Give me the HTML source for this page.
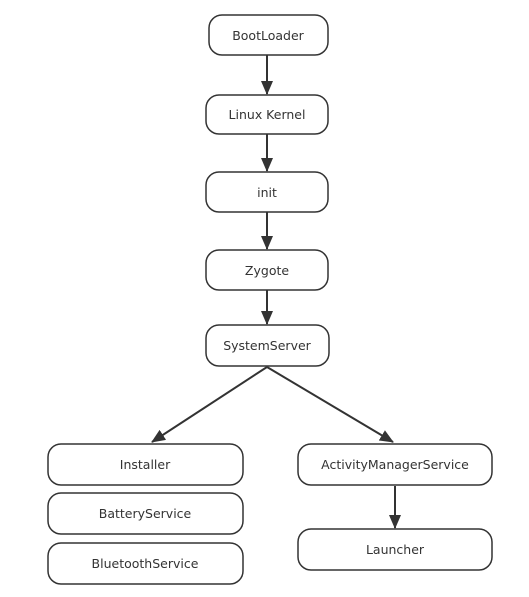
<!DOCTYPE html>
<html><head><style>body{margin:0;background:#fff}</style></head><body>
<svg width="529" height="592" xmlns="http://www.w3.org/2000/svg" font-family="'DejaVu Sans','Liberation Sans',sans-serif" font-size="12.5" fill="#333">
<defs><marker id="a" markerWidth="14" markerHeight="14" refX="13" refY="7" orient="auto" markerUnits="userSpaceOnUse"><path d="M0,1 L14,7 L0,13 z" fill="#333"/></marker></defs>
<g fill="#fff" stroke="#333" stroke-width="1.5">
<rect x="209" y="15" width="119" height="40" rx="13"/>
<rect x="206" y="95" width="122" height="39" rx="13"/>
<rect x="206" y="172" width="122" height="40" rx="13"/>
<rect x="206" y="250" width="122" height="40" rx="13"/>
<rect x="206" y="325" width="123" height="41" rx="13"/>
<rect x="48" y="444" width="195" height="41" rx="13"/>
<rect x="48" y="493" width="195" height="41" rx="13"/>
<rect x="48" y="543" width="195" height="41" rx="13"/>
<rect x="298" y="444" width="194" height="41" rx="13"/>
<rect x="298" y="529" width="194" height="41" rx="13"/>
</g>
<g stroke="#333" stroke-width="2" fill="none" marker-end="url(#a)">
<line x1="267" y1="55" x2="267" y2="94"/>
<line x1="267" y1="134" x2="267" y2="171"/>
<line x1="267" y1="212" x2="267" y2="249"/>
<line x1="267" y1="290" x2="267" y2="324"/>
<line x1="267" y1="367" x2="152" y2="442"/>
<line x1="267" y1="367" x2="393" y2="442"/>
<line x1="395" y1="486" x2="395" y2="528"/>
</g>
<g text-anchor="middle" stroke="none">
<text x="268" y="40">BootLoader</text>
<text x="267" y="119">Linux Kernel</text>
<text x="267" y="197">init</text>
<text x="267" y="275">Zygote</text>
<text x="267" y="350">SystemServer</text>
<text x="145" y="469">Installer</text>
<text x="145" y="518">BatteryService</text>
<text x="145" y="568">BluetoothService</text>
<text x="395" y="469">ActivityManagerService</text>
<text x="395" y="554">Launcher</text>
</g>
</svg>
</body></html>
